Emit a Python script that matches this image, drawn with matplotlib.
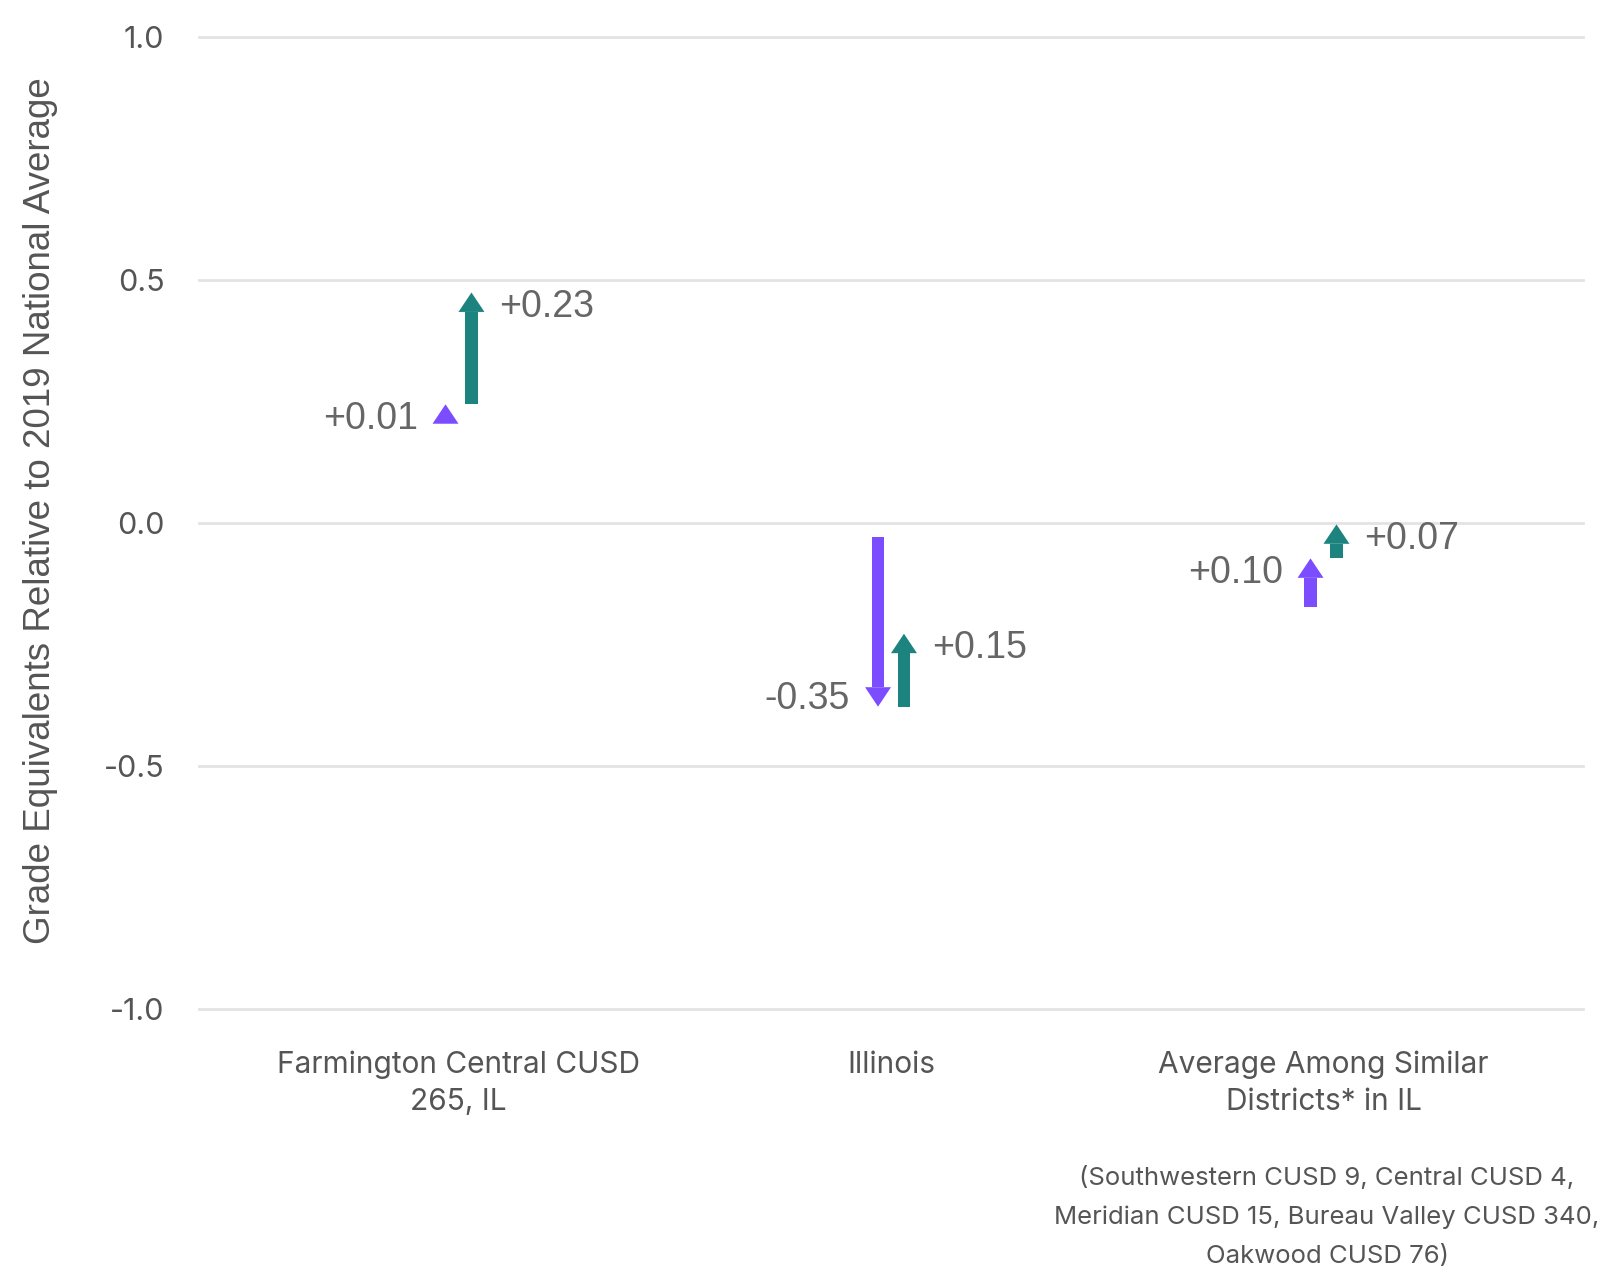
import matplotlib
matplotlib.use("Agg")
import matplotlib.pyplot as plt
from matplotlib.patches import Polygon
import numpy as np

plt.rcParams['axes.unicode_minus'] = False

categories = ["Farmington Central CUSD\n265, IL", "Illinois", "Average Among Similar\nDistricts* in IL"]
baseline = [0.234, -0.028, -0.173]
change_first = [0.01, -0.35, 0.10]    # purple
change_second = [0.23, 0.15, 0.07]    # teal
y_ticks = [-1.0, -0.5, 0.0, 0.5, 1.0]
footnote = "(Southwestern CUSD 9, Central CUSD 4,\nMeridian CUSD 15, Bureau Valley CUSD 340,\nOakwood CUSD 76)"

PURPLE = "#7b4dff"
TEAL = "#1c837e"
TXT = "#666666"

fig = plt.figure(figsize=(16.03, 12.72), dpi=100)
ax = fig.add_axes([199/1603, 1 - 1009/1272, (1583-199)/1603, (1009-36.8)/1272])
ax.set_xlim(-0.6, 2.6)
ax.set_ylim(-1.0, 1.0)

for s in ax.spines.values():
    s.set_visible(False)
ax.set_yticks(y_ticks)
ax.set_yticklabels([f"{t:.1f}" for t in y_ticks], fontsize=22, color="#555555", family=["Inter", "DejaVu Sans"])
ax.tick_params(axis='y', length=0, pad=25)
ax.set_xticks(range(len(categories)))
ax.set_xticklabels(categories, fontsize=21.5, color="#555555", family=["Inter", "DejaVu Sans"], linespacing=1.38)
ax.tick_params(axis='x', length=0, pad=30)
for t in y_ticks:
    ax.axhline(t, color="#e3e3e3", lw=2, zorder=0, clip_on=False)

shaft_w = 0.0295
head_w = 0.06
head_len = 0.04
x_off = 0.03

def draw_arrow(x, y0, delta, color):
    y1 = y0 + delta
    sgn = 1 if delta >= 0 else -1
    yb = y1 - sgn * head_len
    if abs(delta) > head_len:
        ax.add_patch(Polygon([[x - shaft_w/2, y0], [x + shaft_w/2, y0], [x + shaft_w/2, yb], [x - shaft_w/2, yb]],
                             closed=True, color=color, lw=0, zorder=3))
    ax.add_patch(Polygon([[x - head_w/2, yb], [x + head_w/2, yb], [x, y1]], closed=True, color=color, lw=0, zorder=3))
    return y1

def label_y(end, delta):
    return end - 0.030 if delta >= 0 else end + 0.015

for i in range(len(categories)):
    y_mid = draw_arrow(i - x_off, baseline[i], change_first[i], PURPLE)
    y_end = draw_arrow(i + x_off, y_mid, change_second[i], TEAL)
    ax.annotate(f"{change_first[i]:+.2f}", xy=(i - x_off, label_y(y_mid, change_first[i])), xytext=(-20, 0),
                textcoords="offset points", ha="right", va="center", fontsize=27, color=TXT,
                family=["Liberation Sans", "DejaVu Sans"])
    ax.annotate(f"{change_second[i]:+.2f}", xy=(i + x_off, label_y(y_end, change_second[i])), xytext=(20, 0),
                textcoords="offset points", ha="left", va="center", fontsize=27, color=TXT,
                family=["Liberation Sans", "DejaVu Sans"])

fig.text(41/1603, 1 - 511/1272, "Grade Equivalents Relative to 2019 National Average", rotation=90,
         ha="center", va="center", fontsize=26.5, color="#555555", family=["Liberation Sans", "DejaVu Sans"])

fig.text(1327/1603, 1 - 1217/1272, footnote, ha="center", va="center", fontsize=18.5, color="#555555",
         family=["Inter", "DejaVu Sans"], linespacing=1.85)

fig.savefig("out.png", dpi=100)
